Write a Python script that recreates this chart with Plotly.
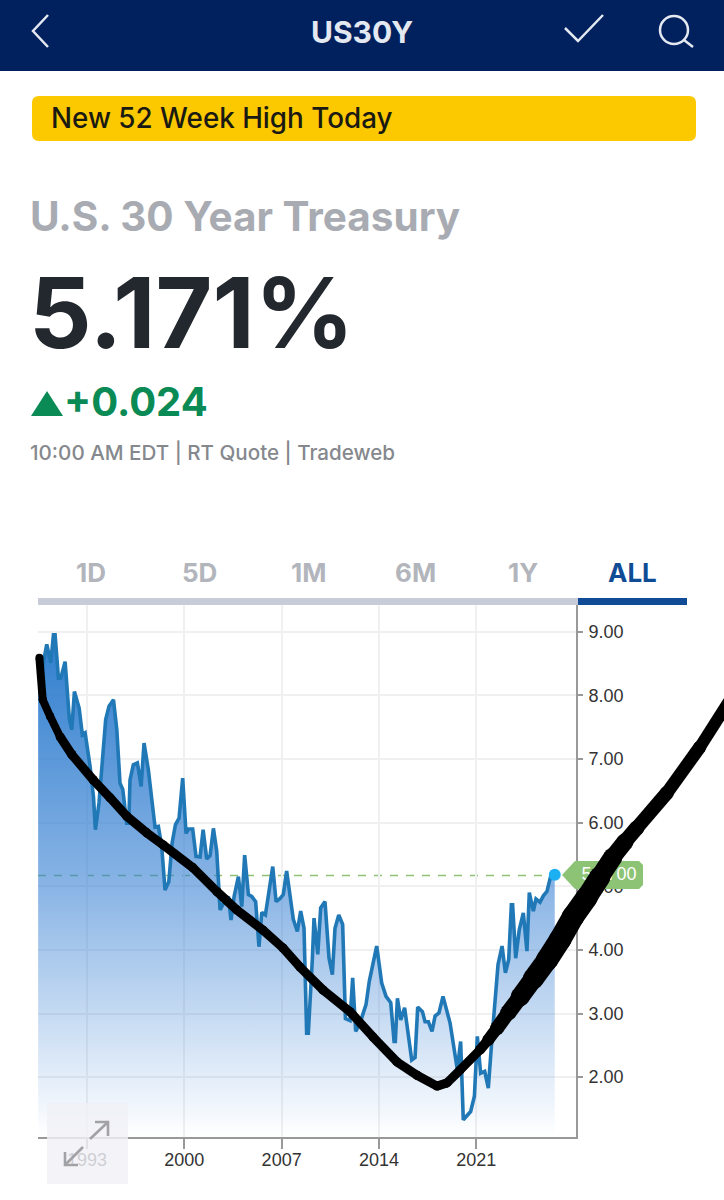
import plotly.graph_objects as go

# Yield series
years = [1989.48, 1989.76, 1990.10, 1990.39, 1990.58, 1990.70, 1990.94, 1991.11, 1991.42, 1991.73,
         1991.90, 1992.09, 1992.43, 1992.66, 1992.86, 1993.22, 1993.46, 1993.60, 1993.86, 1994.13,
         1994.34, 1994.58, 1994.90, 1995.14, 1995.37, 1995.57, 1995.85, 1996.00, 1996.09, 1996.33,
         1996.62, 1996.89, 1997.10, 1997.41, 1997.65, 1997.89, 1998.13, 1998.37, 1998.61, 1998.88,
         1999.12, 1999.36, 1999.62, 1999.88, 2000.12, 2000.31, 2000.60, 2000.84, 2001.13, 2001.35,
         2001.61, 2001.85, 2002.09, 2002.33, 2002.57, 2002.81, 2003.17, 2003.36, 2003.58, 2003.89,
         2004.13, 2004.34, 2004.61, 2004.85, 2005.13, 2005.37, 2005.57, 2005.83, 2006.07, 2006.36,
         2006.60, 2006.89, 2007.12, 2007.36, 2007.84, 2008.13, 2008.37, 2008.61, 2008.80, 2008.92,
         2009.21, 2009.33, 2009.60, 2009.81, 2010.12, 2010.41, 2010.65, 2010.84, 2011.11, 2011.39,
         2011.59, 2011.92, 2012.11, 2012.33, 2012.64, 2013.07, 2013.31, 2013.84, 2014.20, 2014.51,
         2014.85, 2015.09, 2015.18, 2015.33, 2015.57, 2015.85, 2016.36, 2016.60, 2016.79, 2017.13,
         2017.32, 2017.56, 2017.82, 2018.04, 2018.32, 2018.61, 2019.12, 2019.36, 2019.64, 2019.88,
         2020.07, 2020.60, 2020.87, 2021.08, 2021.32, 2021.61, 2021.87, 2022.11, 2022.35, 2022.57,
         2022.86, 2023.10, 2023.34, 2023.53, 2023.62, 2023.84, 2024.10, 2024.39, 2024.65, 2024.82,
         2025.11, 2025.30, 2025.59, 2025.83, 2026.09, 2026.36, 2026.65]
yields = [8.19, 8.40, 8.80, 8.51, 8.95, 8.95, 8.27, 8.27, 8.53, 7.62,
          7.46, 8.06, 7.80, 7.38, 7.41, 6.88, 6.41, 5.89, 6.31, 7.09,
          7.62, 7.83, 7.93, 7.46, 6.62, 6.52, 5.99, 5.99, 6.67, 6.91,
          6.94, 6.57, 7.25, 6.83, 6.41, 5.93, 5.94, 5.63, 4.94, 5.07,
          5.68, 5.97, 6.07, 6.70, 5.83, 5.90, 5.90, 5.47, 5.46, 5.89,
          5.43, 5.48, 5.91, 5.55, 4.63, 4.73, 4.84, 4.47, 4.84, 5.15,
          4.68, 5.49, 4.87, 4.84, 4.76, 4.05, 4.59, 4.55, 4.89, 5.31,
          4.76, 4.81, 4.87, 5.24, 4.48, 4.29, 4.61, 4.34, 2.69, 2.69,
          3.85, 4.50, 3.93, 4.66, 4.76, 3.87, 3.61, 4.34, 4.55, 4.40,
          2.92, 2.89, 3.56, 2.72, 2.85, 3.14, 3.51, 4.06, 3.48, 3.27,
          3.17, 2.56, 2.56, 3.24, 2.90, 3.09, 2.27, 2.31, 3.10, 3.03,
          2.87, 2.87, 2.72, 2.96, 3.01, 3.27, 2.85, 2.54, 2.12, 2.56,
          1.33, 1.46, 1.70, 2.64, 2.06, 2.09, 1.83, 2.54, 3.22, 3.77,
          4.06, 3.64, 3.85, 4.71, 4.71, 3.87, 4.32, 4.58, 3.98, 4.90,
          4.61, 4.80, 4.75, 4.85, 4.92, 5.16, 5.18]

# Hand drawn black curve on top of the chart
sketch_years = [1989.57, 1989.81, 1990.34, 1991.06, 1991.90, 1993.45, 1994.66, 1995.86, 1997.29, 1998.47,
                2000.63, 2002.33, 2003.77, 2005.66, 2007.10, 2008.32, 2009.98, 2011.92, 2013.58, 2015.30,
                2016.74, 2018.18, 2018.90, 2019.83, 2021.27, 2021.85, 2022.50, 2023.29, 2024.15, 2025.09,
                2026.09, 2027.03, 2027.96, 2028.97, 2029.91, 2030.84, 2031.71, 2032.57, 2034.73, 2037.10,
                2039.26]
sketch_values = [8.59, 7.93, 7.67, 7.35, 7.07, 6.67, 6.39, 6.10, 5.84, 5.65,
                 5.29, 4.92, 4.63, 4.31, 4.03, 3.73, 3.37, 3.03, 2.63, 2.24,
                 2.03, 1.86, 1.91, 2.11, 2.43, 2.58, 2.77, 3.01, 3.26, 3.54,
                 3.84, 4.16, 4.52, 4.83, 5.15, 5.46, 5.70, 5.92, 6.47, 7.19,
                 7.93]
sketch_widths = [8, 8, 8, 9, 9, 9, 9, 9, 9, 9,
                 9, 9, 9, 9, 9, 9, 9, 9, 9, 9,
                 9, 9, 9, 9, 10, 12, 14, 16, 19, 21,
                 22, 22, 22, 21, 19, 17, 15, 14, 13, 12,
                 11]

x_ticks = [1993, 2000, 2007, 2014, 2021]
x_tick_labels = ['1993', '2000', '2007', '2014', '2021']
y_ticks = [2, 3, 4, 5, 6, 7, 8, 9]
y_tick_labels = ['2.00', '3.00', '4.00', '5.00', '6.00', '7.00', '8.00', '9.00']
last_yield = 5.17
last_label = '5.1700'

tabs = ['1D', '5D', '1M', '6M', '1Y', 'ALL']
tab_centers = [91, 199, 308, 415, 523, 632]

W, H = 724, 1200
# plot area in page pixels
left, right, top, bottom = 38, 576, 605, 1137
x_range = [1989.47, 2028.18]
y_range = [1.06, 9.42]


def sx(x):
    return x / W


def sy(y):
    return (H - y) / H


def to_year(x):
    return x_range[0] + (x - left) / (right - left) * (x_range[1] - x_range[0])


def to_value(y):
    return y_range[0] + (bottom - y) / (bottom - top) * (y_range[1] - y_range[0])


def round_rect(x0, y0, x1, y1, r):
    return (f'M {sx(x0 + r)},{sy(y0)} L {sx(x1 - r)},{sy(y0)} Q {sx(x1)},{sy(y0)} {sx(x1)},{sy(y0 + r)} '
            f'L {sx(x1)},{sy(y1 - r)} Q {sx(x1)},{sy(y1)} {sx(x1 - r)},{sy(y1)} '
            f'L {sx(x0 + r)},{sy(y1)} Q {sx(x0)},{sy(y1)} {sx(x0)},{sy(y1 - r)} '
            f'L {sx(x0)},{sy(y0 + r)} Q {sx(x0)},{sy(y0)} {sx(x0 + r)},{sy(y0)} Z')


def polyline(points):
    return 'M ' + ' L '.join(f'{sx(x)},{sy(y)}' for x, y in points)


fig = go.Figure()

fig.add_trace(go.Scatter(x=years, y=yields, mode='lines', fill='tozeroy',
                         line=dict(color='#2178b6', width=3.6),
                         fillgradient=dict(type='vertical', start=y_range[0], stop=9.0,
                                           colorscale=[[0, 'rgba(50,125,210,0.0)'],
                                                       [0.5, 'rgba(50,125,210,0.58)'],
                                                       [1, 'rgba(45,125,205,1)']])))
fig.add_trace(go.Scatter(x=years[-1:], y=yields[-1:], mode='markers',
                         marker=dict(color='#1cb0f2', size=12)))

# green last price tag, on the full page overlay axes so it can leave the plot area
tag_x = [562, 575, 639, 643, 643, 639, 575, 562]
tag_y = [875, 861, 861, 865, 885, 889, 889, 875]
fig.add_trace(go.Scatter(x=[to_year(v) for v in tag_x], y=[to_value(v) for v in tag_y],
                         xaxis='x2', yaxis='y2', mode='lines', fill='toself', fillcolor='#8cc374',
                         line=dict(color='#8cc374', width=0)))
fig.add_trace(go.Scatter(x=[to_year(609)], y=[last_yield], xaxis='x2', yaxis='y2', mode='text', text=[last_label],
                         textposition='middle center',
                         textfont=dict(family='Liberation Sans', size=18, color='white')))

# black curve, one piece per width so it can get thicker
for i in range(len(sketch_years) - 1):
    w = sketch_widths[i]
    fig.add_trace(go.Scatter(x=sketch_years[i:i + 2], y=sketch_values[i:i + 2], xaxis='x2', yaxis='y2',
                             mode='lines+markers', line=dict(color='black', width=w),
                             marker=dict(color='black', size=w)))

shapes = [
    dict(type='rect', x0=sx(0), x1=sx(724), y0=sy(0), y1=sy(71), fillcolor='#01205e', line_width=0),
    dict(type='path', path=polyline([(48, 15), (33, 31), (48, 47)]), line=dict(color='#e4e8f0', width=2.5)),
    dict(type='path', path=polyline([(565, 28), (578, 41), (603, 15)]), line=dict(color='#e4e8f0', width=2.5)),
    dict(type='circle', x0=sx(660), x1=sx(688), y0=sy(16), y1=sy(44), line=dict(color='#e4e8f0', width=2.5)),
    dict(type='path', path=polyline([(684, 40), (693, 47)]), line=dict(color='#e4e8f0', width=2.5)),
    dict(type='path', path=round_rect(32, 96, 696, 141, 7), fillcolor='#fcc900', line_width=0),
    dict(type='path', path=polyline([(31, 416), (47, 391), (63, 416)]) + ' Z', fillcolor='#0a8a55', line_width=0),
    dict(type='rect', x0=sx(38), x1=sx(578), y0=sy(598), y1=sy(605), fillcolor='#c8cbd8', line_width=0),
    dict(type='rect', x0=sx(578), x1=sx(687), y0=sy(598), y1=sy(605), fillcolor='#0f4c95', line_width=0),
    dict(type='line', xref='paper', yref='y', x0=sx(38), x1=sx(562), y0=last_yield, y1=last_yield, layer='below',
         line=dict(color='#8cc374', width=1.6, dash='8px,8px')),
    # expand icon
    dict(type='rect', x0=sx(47), x1=sx(128), y0=sy(1103), y1=sy(1184), fillcolor='rgba(240,240,246,0.82)', line_width=0),
    dict(type='path', path=polyline([(90, 1139), (108, 1122)]), line=dict(color='#a2a2a6', width=2.6)),
    dict(type='path', path=polyline([(95, 1122), (108, 1122), (108, 1136)]), line=dict(color='#a2a2a6', width=2.6)),
    dict(type='path', path=polyline([(83, 1147), (65, 1165)]), line=dict(color='#a2a2a6', width=2.6)),
    dict(type='path', path=polyline([(65, 1152), (65, 1165), (78, 1165)]), line=dict(color='#a2a2a6', width=2.6)),
]
for s in shapes:
    s.setdefault('xref', 'paper')
    s.setdefault('yref', 'paper')


def label(text, x, y, size, color, anchor='left', weight='normal', family='Inter'):
    return dict(text=text, x=sx(x), y=sy(y), xref='paper', yref='paper', xanchor=anchor, yanchor='middle',
                showarrow=False, borderpad=0,
                font=dict(family=family, size=size, color=color, weight=weight))


annotations = [
    label('US30Y', 362, 32, 30, '#e4e8f0', 'center', 'bold'),
    label('New 52 Week High Today', 50, 118, 27.8, '#1a1a12', weight=500),
    label('U.S. 30 Year Treasury', 29, 216, 40.5, '#a8abb2', weight='bold'),
    label('5.171%', 28, 312, 98, '#22282e', weight='bold'),
    label('+0.024', 63, 402, 40, '#0a8a55', weight='bold'),
    label('10:00 AM EDT | RT Quote | Tradeweb', 29, 452, 20.6, '#85888d', weight=500),
]
for name, center in zip(tabs, tab_centers):
    color = '#0f4c95' if name == 'ALL' else '#b2b5bb'
    annotations.append(label(name, center, 572, 26, color, 'center', 'bold'))

fig.update_layout(
    width=W, height=H,
    margin=dict(l=0, r=0, t=0, b=0, pad=0),
    paper_bgcolor='white', plot_bgcolor='rgba(0,0,0,0)',
    showlegend=False, hovermode=False,
    shapes=shapes, annotations=annotations,
    font=dict(family='Liberation Sans', size=18, color='#333333'),
    xaxis=dict(domain=[sx(left), sx(right)], range=x_range, tickvals=x_ticks, ticktext=x_tick_labels,
               showgrid=True, gridcolor='#f0f0f0', gridwidth=1.5, zeroline=False, showline=True,
               linecolor='#999999', linewidth=2, ticks='outside', ticklen=10, tickcolor='#999999', tickwidth=2,
               layer='below traces', ticklabelstandoff=-5),
    yaxis=dict(domain=[sy(bottom), sy(top)], range=y_range, side='right', tickvals=y_ticks, ticktext=y_tick_labels,
               showgrid=True, gridcolor='#f0f0f0', gridwidth=1.5, zeroline=False, showline=True,
               linecolor='#999999', linewidth=2, ticks='outside', ticklen=5, tickcolor='#999999', tickwidth=2,
               layer='below traces', ticklabelstandoff=2),
    # full page axes with the same scale as the chart
    xaxis2=dict(domain=[0, 1], range=[to_year(0), to_year(W)], anchor='y2', visible=False),
    yaxis2=dict(domain=[0, 1], range=[to_value(H), to_value(0)], anchor='x2', visible=False),
)

fig.write_html("out.html", post_script="document.body.style.margin='0'", config={'displayModeBar': False})
